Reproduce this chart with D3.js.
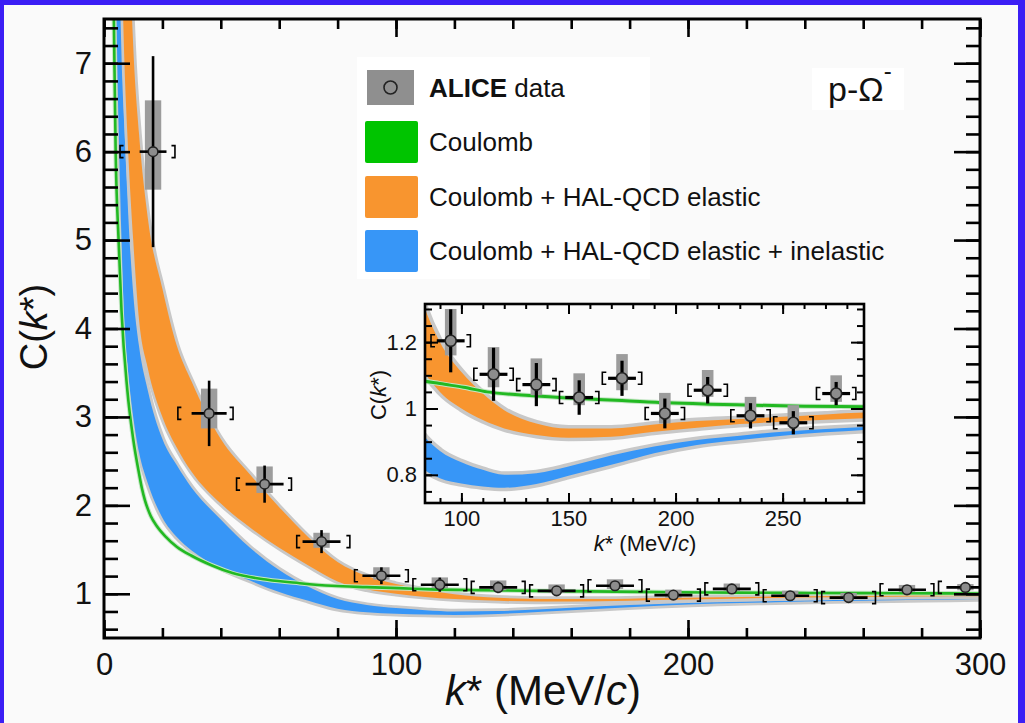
<!DOCTYPE html>
<html><head><meta charset="utf-8">
<script src="https://cdn.jsdelivr.net/npm/d3@7"></script>
<style>body{margin:0;background:#3b1ef5;} svg{display:block;}</style>
</head><body><svg id="c" width="1025" height="723"></svg>
<script>
// ---------------- data ----------------
const xDomain = [0, 300];
const yDomain = [0.5, 7.5];
const xMajor = [0, 100, 200, 300];
const xMinor = d3.range(0, 301, 20);
const yMajor = [1, 2, 3, 4, 5, 6, 7];
const yMinor = d3.range(0.6, 7.5, 0.2);

const insetXDomain = [83, 288];
const insetYDomain = [0.715, 1.315];
const insetXMajor = [100, 150, 200, 250];
const insetXMinor = d3.range(90, 288, 10);
const insetYMajor = [0.8, 1, 1.2];
const insetYMinor = d3.range(0.75, 1.31, 0.05);

// ALICE data points
const kStar  = [16.8, 36, 55, 74.5, 95, 115, 135, 155, 175, 195, 215, 235, 255, 275, 295];
const cVal   = [6.0, 3.04, 2.24, 1.59, 1.204, 1.103, 1.072, 1.033, 1.091, 0.985, 1.055, 0.978, 0.957, 1.045, 1.072];
const statErr= [1.08, 0.37, 0.21, 0.13, 0.095, 0.08, 0.065, 0.052, 0.053, 0.045, 0.04, 0.038, 0.035, 0.035, 0.03];
const sysHi  = [6.58, 3.32, 2.44, 1.69, 1.30, 1.185, 1.151, 1.106, 1.164, 1.047, 1.116, 1.035, 1.010, 1.100, 1.11];
const sysLo  = [5.57, 2.87, 2.14, 1.52, 1.16, 1.064, 1.040, 1.010, 1.055, 0.955, 1.035, 0.962, 0.945, 1.020, 1.04];
const kErr   = [4.6, 6, 6.5, 6.5, 6.5, 6.5, 6.5, 6.5, 6.5, 6.5, 6.5, 6.5, 6.5, 6.5, 6.5];
const binLo  = [5.5, 25.3, 45.4, 66, 85.8, 105.8, 125.8, 145.8, 165.8, 185.8, 205.8, 225.8, 245.8, 265.8, 285.8];
const binHi  = [24.3, 44.2, 64.2, 84.2, 104.2, 124.2, 144.2, 164.2, 184.2, 204.2, 224.2, 244.2, 264.2, 284.2, 304.2];

// Model bands
const bandK     = [4, 5, 6, 7, 8, 10, 12, 15, 20, 25, 30, 40, 50, 60, 70, 80, 90, 100, 110, 120, 135, 150, 170, 190, 210, 230, 250, 270, 290, 300];
const elasticLo = [12, 10, 8.3, 7.0, 6.2, 5.0, 4.1, 3.55, 3.0, 2.65, 2.38, 2.02, 1.75, 1.52, 1.32, 1.14, 1.05, 1.0, 0.965, 0.94, 0.92, 0.912, 0.915, 0.93, 0.942, 0.953, 0.96, 0.966, 0.971, 0.973];
const elasticHi = [20, 16, 13, 11, 9.2, 7.2, 6.2, 5.25, 4.45, 3.8, 3.4, 2.75, 2.35, 1.98, 1.64, 1.36, 1.20, 1.11, 1.045, 0.995, 0.955, 0.94, 0.94, 0.952, 0.962, 0.968, 0.975, 0.982, 0.988, 0.99];
const inelLo    = [8.0, 6.3, 5.0, 4.0, 3.6, 3.0, 2.6, 2.25, 1.86, 1.64, 1.49, 1.29, 1.15, 1.02, 0.92, 0.83, 0.79, 0.774, 0.765, 0.761, 0.772, 0.797, 0.83, 0.865, 0.89, 0.905, 0.918, 0.928, 0.936, 0.94];
const inelHi    = [12, 9.5, 7.5, 6.3, 5.5, 4.4, 3.8, 3.3, 2.75, 2.45, 2.2, 1.84, 1.52, 1.27, 1.08, 0.94, 0.872, 0.838, 0.815, 0.80, 0.805, 0.825, 0.858, 0.885, 0.905, 0.918, 0.93, 0.938, 0.945, 0.948];

// Coulomb curve
const coulK = [3, 3.5, 4, 5, 6, 8, 10, 12, 13, 14, 15, 16, 18, 21, 25, 30, 37, 44, 56, 67, 78, 90, 101, 112, 130, 155, 175, 196, 216, 236, 260, 288, 300];
const coulC = [8.5, 7.2, 6.0, 5.0, 4.2, 3.3, 2.75, 2.36, 2.19, 2.06, 1.96, 1.88, 1.77, 1.65, 1.53, 1.43, 1.32, 1.234, 1.158, 1.12, 1.09, 1.075, 1.064, 1.05, 1.04, 1.03, 1.024, 1.017, 1.013, 1.010, 1.007, 1.005, 1.004];

const legendLabels = ["data", "Coulomb", "Coulomb + HAL-QCD elastic", "Coulomb + HAL-QCD elastic + inelastic"];
const colGreen = "#22b922", colGreenLeg = "#00c400";
const colOrange = "#f8952f", colBlue = "#3796f7", colGray = "#c8c8c8";

// ---------------- drawing ----------------
const font = "'Liberation Sans', Arial, Helvetica, sans-serif";
const svg = d3.select("#c").style("font-family", font);
svg.append("rect").attr("width", 1025).attr("height", 723).attr("fill", "#3b1ef5");
svg.append("rect").attr("x", 4).attr("y", 5).attr("width", 1014).attr("height", 718).attr("fill", "#fafafa");

const mx = d3.scaleLinear().domain(xDomain).range([104, 980]);
const my = d3.scaleLinear().domain(yDomain).range([638, 19]);
const ix = d3.scaleLinear().domain(insetXDomain).range([425, 864]);
const iy = d3.scaleLinear().domain(insetYDomain).range([503, 304]);

const defs = svg.append("defs");
defs.append("clipPath").attr("id", "clipMain").append("rect")
  .attr("x", 104).attr("y", 19).attr("width", 876).attr("height", 619);
defs.append("clipPath").attr("id", "clipInset").append("rect")
  .attr("x", 425).attr("y", 304).attr("width", 439).attr("height", 199);

function drawModels(g, xs, ys, grayW, lineW) {
  const band = (lo, hi, color) => {
    const area = d3.area()
      .x((d, i) => xs(bandK[i])).y0((d, i) => ys(lo[i])).y1((d, i) => ys(hi[i]))
      .curve(d3.curveMonotoneX);
    g.append("path").attr("d", area(bandK)).attr("fill", colGray)
      .attr("stroke", colGray).attr("stroke-width", grayW).attr("stroke-linejoin", "round");
    g.append("path").attr("d", area(bandK)).attr("fill", color);
  };
  band(inelLo, inelHi, colBlue);
  band(elasticLo, elasticHi, colOrange);
  const line = d3.line().x((d, i) => xs(coulK[i])).y((d, i) => ys(coulC[i])).curve(d3.curveMonotoneX);
  g.append("path").attr("d", line(coulK)).attr("fill", "none")
    .attr("stroke", "#c6e6c6").attr("stroke-width", lineW + 2);
  g.append("path").attr("d", line(coulK)).attr("fill", "none")
    .attr("stroke", colGreen).attr("stroke-width", lineW);
}

function drawData(g, xs, ys, o, keep) {
  const idx = d3.range(kStar.length).filter(i => keep(kStar[i]));
  idx.forEach(i => {
    g.append("rect")
      .attr("x", xs(kStar[i] - o.box)).attr("width", xs(kStar[i] + o.box) - xs(kStar[i] - o.box))
      .attr("y", ys(sysHi[i])).attr("height", ys(sysLo[i]) - ys(sysHi[i]))
      .attr("fill", "#9c9c9c");
  });
  idx.forEach(i => {
    const x = xs(kStar[i]), y = ys(cVal[i]);
    g.append("line").attr("x1", x).attr("x2", x)
      .attr("y1", ys(cVal[i] + statErr[i])).attr("y2", ys(cVal[i] - statErr[i]))
      .attr("stroke", "#000").attr("stroke-width", o.bw);
    g.append("line").attr("x1", xs(kStar[i] - kErr[i])).attr("x2", xs(kStar[i] + kErr[i]))
      .attr("y1", y).attr("y2", y).attr("stroke", "#000").attr("stroke-width", o.bw);
    const xl = xs(binLo[i]), xr = xs(binHi[i]), h = o.bh, s = o.bs;
    g.append("path").attr("d", `M${xl + s},${y - h}H${xl}V${y + h}H${xl + s}`)
      .attr("fill", "none").attr("stroke", "#000").attr("stroke-width", 1.6);
    g.append("path").attr("d", `M${xr - s},${y - h}H${xr}V${y + h}H${xr - s}`)
      .attr("fill", "none").attr("stroke", "#000").attr("stroke-width", 1.6);
  });
  idx.forEach(i => {
    g.append("circle").attr("cx", xs(kStar[i])).attr("cy", ys(cVal[i])).attr("r", o.r)
      .attr("fill", "#8c8c8c").attr("stroke", "#222").attr("stroke-width", 1.6);
  });
}

function styleAxis(sel, w, fs) {
  sel.select(".domain").remove();
  sel.selectAll(".tick line").attr("stroke", "#000").attr("stroke-width", w);
  sel.selectAll("text").attr("fill", "#111").style("font-size", fs + "px").style("font-family", font);
}

// ----- main plot -----
const gMain = svg.append("g");
const gClip = gMain.append("g").attr("clip-path", "url(#clipMain)");
drawModels(gClip, mx, my, 5.5, 2.6);
drawData(gClip, mx, my, { box: 2.8, r: 4.8, bw: 2.6, bh: 6, bs: 3.5 }, k => k <= 300);

const fmtY = d => d3.format("d")(d);
const FS = 31;
gMain.append("g").attr("transform", "translate(0,638)")
  .call(d3.axisBottom(mx).tickValues(xMinor).tickSize(-10).tickFormat(""))
  .call(s => styleAxis(s, 2.6, FS));
gMain.append("g").attr("transform", "translate(0,638)")
  .call(d3.axisBottom(mx).tickValues(xMajor).tickSize(-18).tickPadding(15).tickFormat(d3.format("d")))
  .call(s => styleAxis(s, 2.6, FS));
gMain.append("g").attr("transform", "translate(0,19)")
  .call(d3.axisTop(mx).tickValues(xMinor).tickSize(-10).tickFormat(""))
  .call(s => styleAxis(s, 2.6, FS));
gMain.append("g").attr("transform", "translate(0,19)")
  .call(d3.axisTop(mx).tickValues(xMajor).tickSize(-18).tickFormat(""))
  .call(s => styleAxis(s, 2.6, FS));
gMain.append("g").attr("transform", "translate(104,0)")
  .call(d3.axisLeft(my).tickValues(yMinor).tickSize(-14).tickFormat(""))
  .call(s => styleAxis(s, 2.6, FS));
gMain.append("g").attr("transform", "translate(104,0)")
  .call(d3.axisLeft(my).tickValues(yMajor).tickSize(-26).tickPadding(12).tickFormat(fmtY))
  .call(s => styleAxis(s, 2.6, FS));
gMain.append("g").attr("transform", "translate(980,0)")
  .call(d3.axisRight(my).tickValues(yMinor).tickSize(-14).tickFormat(""))
  .call(s => styleAxis(s, 2.6, FS));
gMain.append("g").attr("transform", "translate(980,0)")
  .call(d3.axisRight(my).tickValues(yMajor).tickSize(-26).tickFormat(""))
  .call(s => styleAxis(s, 2.6, FS));
gMain.append("rect").attr("x", 104).attr("y", 19).attr("width", 876).attr("height", 619)
  .attr("fill", "none").attr("stroke", "#000").attr("stroke-width", 3);

// axis titles
const xt = gMain.append("text").attr("x", 543).attr("y", 705).attr("text-anchor", "middle")
  .style("font-size", "42px").attr("fill", "#111");
xt.append("tspan").style("font-style", "italic").text("k");
xt.append("tspan").text("* (MeV/");
xt.append("tspan").style("font-style", "italic").text("c");
xt.append("tspan").text(")");
const yt = gMain.append("text").attr("transform", "translate(47,327) rotate(-90)").attr("text-anchor", "middle")
  .style("font-size", "38px").attr("fill", "#111");
yt.append("tspan").text("C(");
yt.append("tspan").style("font-style", "italic").text("k");
yt.append("tspan").text("*)");

// ----- legend -----
const gLeg = svg.append("g");
gLeg.append("rect").attr("x", 357).attr("y", 57).attr("width", 293).attr("height", 222).attr("fill", "#ffffff");
gLeg.append("rect").attr("x", 367).attr("y", 70).attr("width", 47).attr("height", 35).attr("fill", "#8f8f8f");
gLeg.append("circle").attr("cx", 390.5).attr("cy", 87.5).attr("r", 6.5).attr("fill", "#8f8f8f").attr("stroke", "#222").attr("stroke-width", 1.6);
const legRows = [
  { y: 142, color: colGreenLeg, label: legendLabels[1] },
  { y: 197, color: colOrange, label: legendLabels[2] },
  { y: 251, color: colBlue, label: legendLabels[3] }
];
legRows.forEach(r => {
  gLeg.append("rect").attr("x", 365).attr("y", r.y - 21).attr("width", 53).attr("height", 42).attr("rx", 2).attr("fill", r.color);
  gLeg.append("text").attr("x", 429).attr("y", r.y + 9).style("font-size", "26px").attr("fill", "#111").text(r.label);
});
const t0 = gLeg.append("text").attr("x", 429).attr("y", 97).style("font-size", "26px").attr("fill", "#111");
t0.append("tspan").style("font-weight", "bold").text("ALICE");
t0.append("tspan").text(" " + legendLabels[0]);

// p-Omega label
svg.append("rect").attr("x", 812).attr("y", 68).attr("width", 92).attr("height", 42).attr("fill", "#ffffff");
const pl = svg.append("text").attr("x", 828).attr("y", 101).style("font-size", "34px").attr("fill", "#111");
pl.append("tspan").text("p-Ω");
pl.append("tspan").attr("dy", -22).style("font-size", "24px").text("-");

// ----- inset -----
const gIn = svg.append("g");
gIn.append("rect").attr("x", 425).attr("y", 304).attr("width", 439).attr("height", 199).attr("fill", "#fbfbfb");
const gInClip = gIn.append("g").attr("clip-path", "url(#clipInset)");
drawModels(gInClip, ix, iy, 7, 3);
drawData(gInClip, ix, iy, { box: 2.7, r: 5.5, bw: 3.2, bh: 6, bs: 4 }, k => k >= insetXDomain[0] && k <= insetXDomain[1]);

const fmtI = d => (d === 1 ? "1" : d3.format(".1f")(d));
gIn.append("g").attr("transform", "translate(0,503)")
  .call(d3.axisBottom(ix).tickValues(insetXMinor).tickSize(-5).tickFormat(""))
  .call(s => styleAxis(s, 2, 22));
gIn.append("g").attr("transform", "translate(0,503)")
  .call(d3.axisBottom(ix).tickValues(insetXMajor).tickSize(-10).tickPadding(7).tickFormat(d3.format("d")))
  .call(s => styleAxis(s, 2, 22));
gIn.append("g").attr("transform", "translate(0,304)")
  .call(d3.axisTop(ix).tickValues(insetXMinor).tickSize(-5).tickFormat(""))
  .call(s => styleAxis(s, 2, 22));
gIn.append("g").attr("transform", "translate(0,304)")
  .call(d3.axisTop(ix).tickValues(insetXMajor).tickSize(-10).tickFormat(""))
  .call(s => styleAxis(s, 2, 22));
gIn.append("g").attr("transform", "translate(425,0)")
  .call(d3.axisLeft(iy).tickValues(insetYMinor).tickSize(-7).tickFormat(""))
  .call(s => styleAxis(s, 2, 22));
gIn.append("g").attr("transform", "translate(425,0)")
  .call(d3.axisLeft(iy).tickValues(insetYMajor).tickSize(-13).tickPadding(8).tickFormat(fmtI))
  .call(s => styleAxis(s, 2, 22));
gIn.append("g").attr("transform", "translate(864,0)")
  .call(d3.axisRight(iy).tickValues(insetYMinor).tickSize(-7).tickFormat(""))
  .call(s => styleAxis(s, 2, 22));
gIn.append("g").attr("transform", "translate(864,0)")
  .call(d3.axisRight(iy).tickValues(insetYMajor).tickSize(-13).tickFormat(""))
  .call(s => styleAxis(s, 2, 22));
gIn.append("rect").attr("x", 425).attr("y", 304).attr("width", 439).attr("height", 199)
  .attr("fill", "none").attr("stroke", "#000").attr("stroke-width", 2.6);

const ixt = gIn.append("text").attr("x", 645).attr("y", 551).attr("text-anchor", "middle")
  .style("font-size", "22px").attr("fill", "#111");
ixt.append("tspan").style("font-style", "italic").text("k");
ixt.append("tspan").text("* (MeV/");
ixt.append("tspan").style("font-style", "italic").text("c");
ixt.append("tspan").text(")");
const iyt = gIn.append("text").attr("transform", "translate(386,395) rotate(-90)").attr("text-anchor", "middle")
  .style("font-size", "22px").attr("fill", "#111");
iyt.append("tspan").text("C(");
iyt.append("tspan").style("font-style", "italic").text("k");
iyt.append("tspan").text("*)");
</script></body></html>
